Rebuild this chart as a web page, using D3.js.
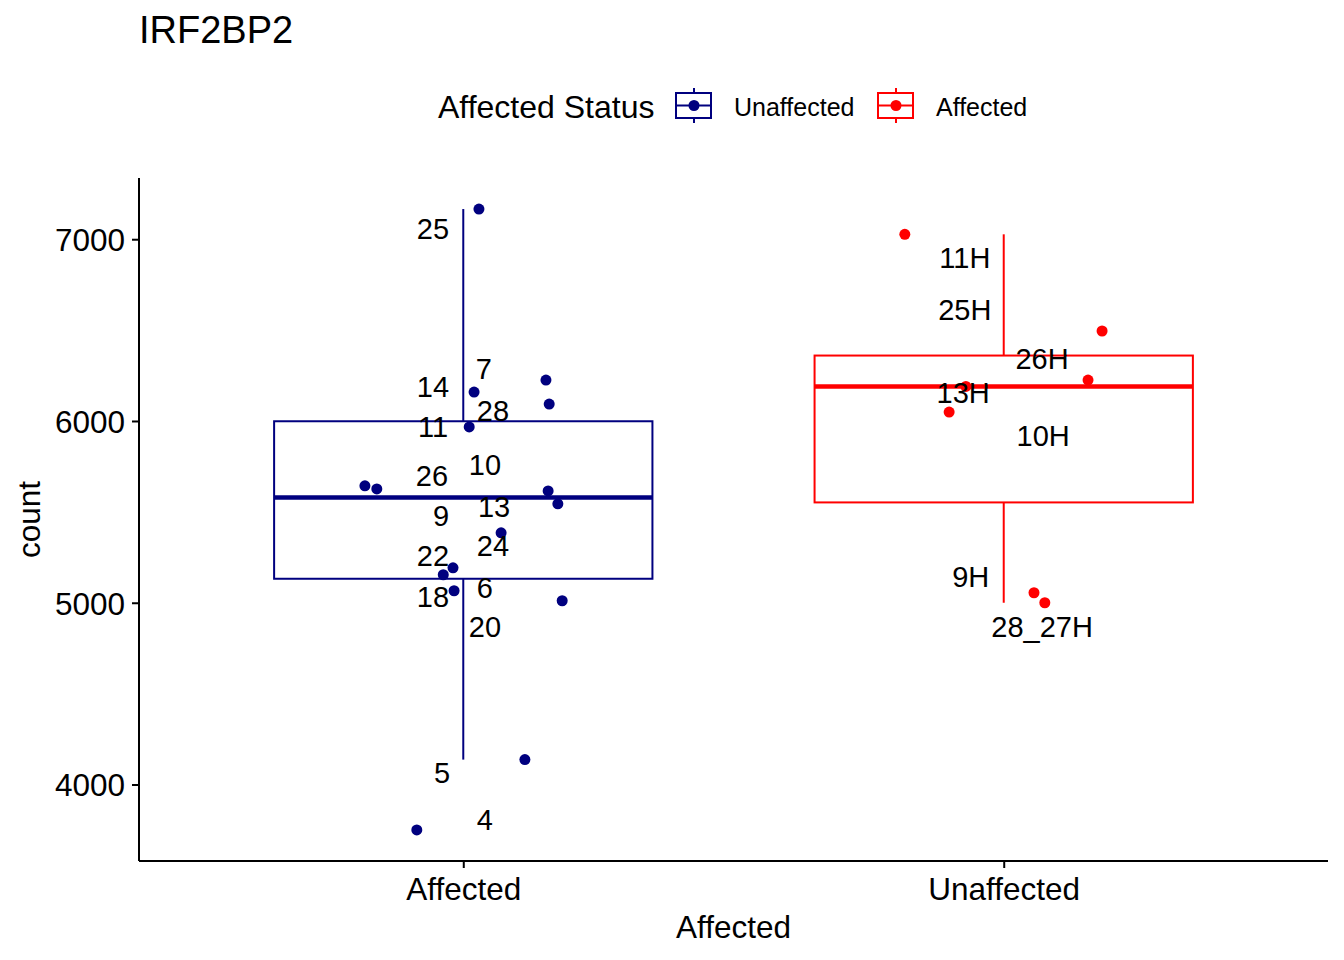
<!DOCTYPE html>
<html>
<head>
<meta charset="utf-8">
<script src="https://cdn.jsdelivr.net/npm/d3@7"></script>
<style>
  html, body { margin: 0; padding: 0; background: #fff; }
  text { font-family: "Liberation Sans", Arial, Helvetica, sans-serif; }
</style>
</head>
<body>
<svg id="chart" width="1344" height="960"></svg>
<script>
// ---------- data ----------
const categories = ["Affected", "Unaffected"];
const groupColors = ["#00007F", "#FF0000"];
const legendLabels = ["Unaffected", "Affected"];
const yTicks = [4000, 5000, 6000, 7000];

// Affected group: counts and horizontal jitter (category units)
const affectedValues = [7166, 6225, 6159, 6093, 5967, 5643, 5626, 5615, 5544, 5385, 5192, 5154, 5066, 5011, 4137, 3750];
const affectedJitter = [0.029, 0.153, 0.020, 0.159, 0.011, -0.182, -0.160, 0.157, 0.175, 0.070, -0.019, -0.037, -0.017, 0.183, 0.114, -0.086];
const affectedLabels = ["25", "7", "14", "28", "11", "10", "26", "13", "9", "24", "22", "6", "18", "20", "5", "4"];
const affectedLabelY = [7060, 6286, 6187, 6055, 5967, 5758, 5698, 5527, 5478, 5313, 5258, 5082, 5033, 4868, 4066, 3808];
const affectedLabelJitter = [-0.056, 0.038, -0.056, 0.055, -0.056, 0.040, -0.058, 0.057, -0.041, 0.055, -0.056, 0.040, -0.056, 0.040, -0.039, 0.040];

// Unaffected group
const unaffectedValues = [7027, 6495, 6225, 6190, 6049, 5055, 5000];
const unaffectedJitter = [-0.183, 0.182, 0.156, -0.070, -0.101, 0.056, 0.076];
const unaffectedLabels = ["11H", "25H", "26H", "13H", "10H", "9H", "28_27H"];
const unaffectedLabelY = [6901, 6610, 6341, 6154, 5918, 5146, 4868];
const unaffectedLabelJitter = [-0.072, -0.072, 0.071, -0.075, 0.073, -0.061, 0.071];

const groups = [
  { values: affectedValues, jitter: affectedJitter, labels: affectedLabels, labelY: affectedLabelY, labelJitter: affectedLabelJitter },
  { values: unaffectedValues, jitter: unaffectedJitter, labels: unaffectedLabels, labelY: unaffectedLabelY, labelJitter: unaffectedLabelJitter }
];

// ---------- layout ----------
const svg = d3.select("#chart");
const plot = { left: 139, right: 1328, top: 178, bottom: 861 };
const FONT_AXIS = 31.5, FONT_LABEL = 29;

const x = d3.scaleLinear().domain([0.4, categories.length + 0.6]).range([plot.left, plot.right]);
const allVals = affectedValues.concat(unaffectedValues);
const [vmin, vmax] = d3.extent(allVals);
const pad = (vmax - vmin) * 0.05;
const y = d3.scaleLinear().domain([vmin - pad, vmax + pad]).range([plot.bottom, plot.top]);

const boxHalf = 0.35;

// ---------- boxplots ----------
groups.forEach((g, i) => {
  const cx = i + 1;
  const col = groupColors[i];
  const s = g.values.slice().sort(d3.ascending);
  const q1 = d3.quantile(s, 0.25), med = d3.quantile(s, 0.5), q3 = d3.quantile(s, 0.75);
  const iqr = q3 - q1;
  const lo = d3.min(s.filter(v => v >= q1 - 1.5 * iqr));
  const hi = d3.max(s.filter(v => v <= q3 + 1.5 * iqr));
  const gb = svg.append("g");
  gb.append("line").attr("x1", x(cx)).attr("x2", x(cx)).attr("y1", y(q3)).attr("y2", y(hi))
    .attr("stroke", col).attr("stroke-width", 2);
  gb.append("line").attr("x1", x(cx)).attr("x2", x(cx)).attr("y1", y(q1)).attr("y2", y(lo))
    .attr("stroke", col).attr("stroke-width", 2);
  gb.append("rect").attr("x", x(cx - boxHalf)).attr("y", y(q3))
    .attr("width", x(cx + boxHalf) - x(cx - boxHalf)).attr("height", y(q1) - y(q3))
    .attr("fill", "white").attr("stroke", col).attr("stroke-width", 2);
  gb.append("line").attr("x1", x(cx - boxHalf)).attr("x2", x(cx + boxHalf)).attr("y1", y(med)).attr("y2", y(med))
    .attr("stroke", col).attr("stroke-width", 4.5);
});

// ---------- points ----------
groups.forEach((g, i) => {
  svg.append("g").selectAll("circle").data(g.values).join("circle")
    .attr("cx", (d, j) => x(i + 1 + g.jitter[j]))
    .attr("cy", d => y(d))
    .attr("r", 5.5)
    .attr("fill", groupColors[i]);
});

// ---------- labels ----------
groups.forEach((g, i) => {
  svg.append("g").selectAll("text").data(g.labels).join("text")
    .attr("x", (d, j) => x(i + 1 + g.labelJitter[j]))
    .attr("y", (d, j) => y(g.labelY[j]) + FONT_LABEL * 0.358)
    .attr("text-anchor", "middle")
    .attr("font-size", FONT_LABEL)
    .attr("fill", "black")
    .text(d => d);
});

// ---------- axes ----------
const yAxis = d3.axisLeft(y).tickValues(yTicks).tickSize(7).tickPadding(7).tickFormat(d3.format("d"));
const gy = svg.append("g").attr("transform", `translate(${plot.left},0)`).call(yAxis);
gy.select(".domain").attr("d", `M0,${plot.top}V${plot.bottom}`).attr("stroke", "black").attr("stroke-width", 2);
gy.selectAll(".tick line").attr("stroke", "black").attr("stroke-width", 2);
gy.selectAll(".tick text").attr("font-size", FONT_AXIS).attr("fill", "black")
  .attr("font-family", "'Liberation Sans', Arial, sans-serif").attr("dy", "0.36em");

const xAxis = d3.axisBottom(x).tickValues(categories.map((c, i) => i + 1)).tickSize(7).tickPadding(10)
  .tickFormat((d) => categories[d - 1]);
const gx = svg.append("g").attr("transform", `translate(0,${plot.bottom})`).call(xAxis);
gx.select(".domain").attr("d", `M${plot.left},0H${plot.right}`).attr("stroke", "black").attr("stroke-width", 2);
gx.selectAll(".tick line").attr("stroke", "black").attr("stroke-width", 2);
gx.selectAll(".tick text").attr("font-size", FONT_AXIS).attr("fill", "black")
  .attr("font-family", "'Liberation Sans', Arial, sans-serif").attr("dy", "0.71em");

// axis titles
svg.append("text").attr("x", (plot.left + plot.right) / 2).attr("y", 938)
  .attr("text-anchor", "middle").attr("font-size", FONT_AXIS).text("Affected");
svg.append("text").attr("transform", `translate(40,${(plot.top + plot.bottom) / 2}) rotate(-90)`)
  .attr("text-anchor", "middle").attr("font-size", FONT_AXIS).text("count");

// title
svg.append("text").attr("x", 139).attr("y", 43).attr("font-size", 38).text("IRF2BP2");

// ---------- legend ----------
const lg = svg.append("g");
lg.append("text").attr("x", 438).attr("y", 118).attr("font-size", 32).text("Affected Status");
const keyX = [676, 878], textX = [734, 936];
legendLabels.forEach((lab, i) => {
  const col = groupColors[i];
  const kx = keyX[i];
  const k = lg.append("g");
  k.append("line").attr("x1", kx + 18).attr("x2", kx + 18).attr("y1", 88).attr("y2", 123).attr("stroke", col).attr("stroke-width", 2);
  k.append("rect").attr("x", kx).attr("y", 93).attr("width", 35).attr("height", 25)
    .attr("fill", "white").attr("stroke", col).attr("stroke-width", 2);
  k.append("line").attr("x1", kx).attr("x2", kx + 35).attr("y1", 105.5).attr("y2", 105.5).attr("stroke", col).attr("stroke-width", 2);
  k.append("circle").attr("cx", kx + 18).attr("cy", 105.5).attr("r", 5.5).attr("fill", col);
  lg.append("text").attr("x", textX[i]).attr("y", 116).attr("font-size", 25).text(lab);
});
</script>
</body>
</html>
